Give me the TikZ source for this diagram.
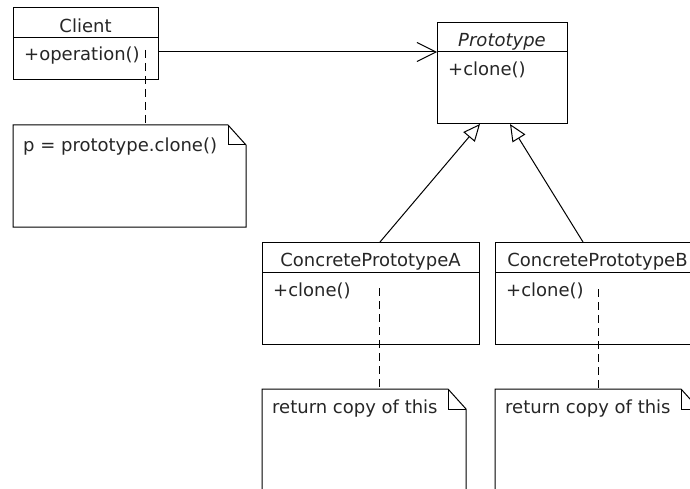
\documentclass[tikz,border=0pt]{standalone}
\usepackage{fontspec}
\setmainfont{DejaVu Sans}
\usetikzlibrary{arrows.meta,calc}
\newcommand{\umlfont}{\fontsize{18}{21}\selectfont}
\tikzset{
  umlline/.style={line width=1pt,black},
  classhead/.style={draw,umlline,anchor=north west,inner sep=0pt,outer sep=0pt,minimum width=#1,minimum height=30,text height=19pt,text depth=0pt,font=\umlfont,text=black!85},
  classbody/.style={draw,umlline,anchor=north west,inner sep=0pt,outer sep=0pt,minimum width=#1},
  bodytext/.style={anchor=base west,inner sep=0pt,xshift=11pt,yshift=-23pt,font=\umlfont,text=black!85},
  notebox/.style={anchor=north west,inner sep=0pt,outer sep=0pt,minimum width=#1},
  notetext/.style={anchor=base west,inner sep=0pt,xshift=10pt,font=\umlfont,text=black!85},
  notelink/.style={umlline,dash pattern=on 8pt off 5pt},
  assoc/.style={umlline,-{Straight Barb[length=19pt,width=19pt,line width=1pt]}},
  inherit/.style={umlline,-{Triangle[open,length=17pt,width=15pt,line width=1pt]}}
}
% note outline with folded corner
\newcommand{\notefold}[1]{%
  \draw[umlline] (#1.north west) -- ([xshift=-18pt]#1.north east) -- ([yshift=-20pt]#1.north east) -- (#1.south east) -- (#1.south west) -- cycle;
  \draw[umlline] ([xshift=-18pt]#1.north east) |- ([yshift=-20pt]#1.north east);}
\begin{document}
\begin{tikzpicture}[x=1pt,y=-1pt]
  \useasboundingbox (0,0) rectangle (690,489);
  \clip (0,0) rectangle (690,489);
  % Client
  \node[classhead=145] (clientHead) at (13,8) {Client};
  \node[classbody=145,minimum height=42,label={[bodytext]north west:+operation()}] (clientBody) at (clientHead.south west) {};
  % Prototype
  \node[classhead=130,minimum height=29] (protoHead) at (437,23) {\itshape Prototype};
  \node[classbody=130,minimum height=72,label={[bodytext,yshift=-1pt]north west:+clone()}] (protoBody) at (protoHead.south west) {};
  % ConcretePrototypeA
  \node[classhead=217] (headA) at (262,242) {ConcretePrototypeA};
  \node[classbody=217,minimum height=72,label={[bodytext,yshift=-1pt]north west:+clone()}] (bodyA) at (headA.south west) {};
  % ConcretePrototypeB
  \node[classhead=205] (headB) at (495,242) {ConcretePrototypeB};
  \node[classbody=205,minimum height=72,label={[bodytext,yshift=-1pt]north west:+clone()}] (bodyB) at (headB.south west) {};
  % notes
  \node[notebox=233,minimum height=102,label={[notetext,yshift=-27pt]north west:{p = prototype.clone()}}] (noteClient) at (13,125) {};
  \notefold{noteClient}
  \node[notebox=204,minimum height=120,label={[notetext,yshift=-24pt]north west:{return copy of this}}] (noteA) at (262,389) {};
  \notefold{noteA}
  \node[notebox=204,minimum height=120,label={[notetext,yshift=-24pt]north west:{return copy of this}}] (noteB) at (495,389) {};
  \notefold{noteB}
  % note links
  \coordinate (attClient) at (145,50);
  \coordinate (attA) at (379,288);
  \coordinate (attB) at (598,289);
  \draw[notelink] (attClient) -- (attClient |- noteClient.north);
  \draw[notelink] (attA) -- (attA |- noteA.north);
  \draw[notelink] (attB) -- (attB |- noteB.north);
  % association and generalisations
  \draw[assoc] (clientBody.east |- protoHead.south) -- (protoHead.south west);
  \draw[inherit] ([xshift=9.5pt]headA.north) -- ([xshift=-22pt]protoBody.south);
  \draw[inherit] ([xshift=-14.5pt]headB.north) -- ([xshift=8pt]protoBody.south);
\end{tikzpicture}
\end{document}
